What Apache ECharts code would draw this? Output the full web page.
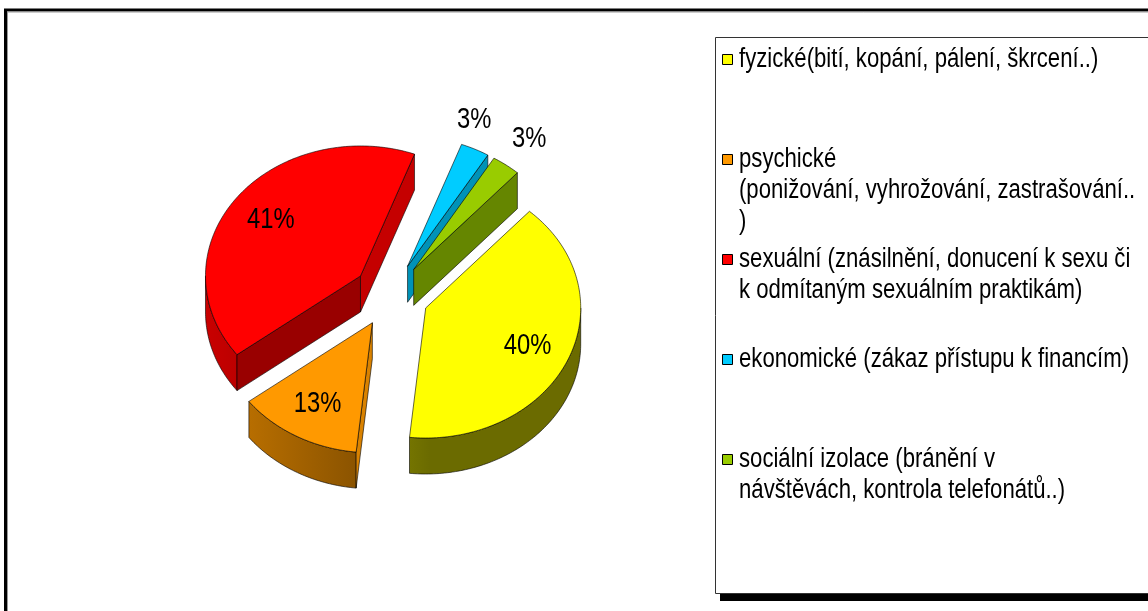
<!DOCTYPE html>
<html>
<head>
<meta charset="utf-8">
<script src="https://cdn.jsdelivr.net/npm/echarts@6/dist/echarts.min.js"></script>
<style>
  html, body { margin: 0; padding: 0; background: #fff; }
  #chart { width: 1148px; height: 611px; }
</style>
</head>
<body>
<div id="chart"></div>
<script>
// data
const categories = [
    'fyzické(bití, kopání, pálení, škrcení..)',
    'psychické (ponižování, vyhrožování, zastrašování..)',
    'sexuální (znásilnění, donucení k sexu či k odmítaným sexuálním praktikám)',
    'ekonomické (zákaz přístupu k financím)',
    'sociální izolace (bránění v návštěvách, kontrola telefonátů..)'
];
const legendLabels = [
    'fyzické(bití, kopání, pálení, škrcení..)',
    'psychické\n(ponižování, vyhrožování, zastrašování..\n)',
    'sexuální (znásilnění, donucení k sexu či\nk odmítaným sexuálním praktikám)',
    'ekonomické (zákaz přístupu k financím)',
    'sociální izolace (bránění v\nnávštěvách, kontrola telefonátů..)'
];
const values = [40, 13, 41, 3, 3];
const colors = ['#FFFF00', '#FF9900', '#FF0000', '#00CCFF', '#99CC00'];

// 3d pie layout
const CX = 391, CY = 295;     // centre of the (unexploded) top face
const R = 155;                // radius
const K = 0.839;              // vertical squash of the tilted disc
const DEPTH = 36;             // thickness
const EXPLODE = 38;           // explosion distance
const START = 42;             // first slice angle, clockwise from 12 o'clock
const FONT = '"Liberation Sans", Arial, sans-serif';
const NARROW_X = 0.82;        // text is squeezed like Arial Narrow

const total = values.reduce((a, b) => a + b, 0);
const rad = d => d * Math.PI / 180;

function sliceAngles(i) {
    const before = values.slice(0, i).reduce((a, b) => a + b, 0);
    const a1 = START + before / total * 360;
    const a2 = a1 + values[i] / total * 360;
    return [a1, a2, (a1 + a2) / 2];
}

function origin(mid) {
    return [CX + EXPLODE * Math.sin(rad(mid)), CY - EXPLODE * Math.cos(rad(mid)) * K];
}

function shade(hex, f) {
    const n = parseInt(hex.slice(1), 16);
    const r = Math.round(((n >> 16) & 255) * f);
    const g = Math.round(((n >> 8) & 255) * f);
    const b = Math.round((n & 255) * f);
    return 'rgb(' + r + ',' + g + ',' + b + ')';
}

// label positions, small slices go outside and are pushed apart
function labelPositions() {
    const pos = [];
    let lastOutside = null;
    values.forEach((v, i) => {
        const [, , mid] = sliceAngles(i);
        const [ox, oy] = origin(mid);
        const outside = v / total < 0.05;
        const r = outside ? R * 1.25 : R * 0.72;
        const p = [ox + r * Math.sin(rad(mid)), oy - r * Math.cos(rad(mid)) * K];
        if (outside) {
            if (lastOutside !== null && p[0] - pos[lastOutside][0] < 55) {
                pos[lastOutside][0] = p[0] - 55;
            }
            lastOutside = i;
        }
        pos.push(p);
    });
    return pos;
}
const labelPos = labelPositions();

function makeRenderItem(idx) {
    return function (params, api) {
        const v = api.value(0);
        const [a1, a2, mid] = sliceAngles(idx);
        const [ox, oy] = origin(mid);
        const pt = (ang, r, dz) => [ox + r * Math.sin(rad(ang)), oy - r * Math.cos(rad(ang)) * K + dz];
        const arc = (from, to, dz) => {
            const pts = [];
            const steps = Math.max(2, Math.ceil(to - from));
            for (let s = 0; s <= steps; s++) pts.push(pt(from + (to - from) * s / steps, R, dz));
            return pts;
        };
        const base = colors[idx];
        const zBase = Math.round(oy) * 10;
        const edge = { stroke: 'rgba(0,0,0,0.75)', lineWidth: 0.8 };
        const children = [];

        // outer wall, only the front half can be seen
        [[90, 270], [450, 630]].forEach(([f, t]) => {
            const s = Math.max(a1, f), e = Math.min(a2, t);
            if (e <= s) return;
            const top = arc(s, e, 0);
            const bottom = arc(s, e, DEPTH).reverse();
            children.push({
                type: 'polygon',
                z2: zBase + 1,
                shape: { points: top.concat(bottom) },
                style: Object.assign({
                    fill: new echarts.graphic.LinearGradient(CX - R - EXPLODE, 0, CX + R + EXPLODE, 0, [
                        { offset: 0, color: shade(base, 0.8) },
                        { offset: 0.45, color: shade(base, 0.52) },
                        { offset: 0.6, color: shade(base, 0.42) },
                        { offset: 1, color: shade(base, 0.42) }
                    ], true)
                }, edge)
            });
        });

        // radial cut faces
        [[a1, a1 - 90], [a2, a2 + 90]].forEach(([ang, normal]) => {
            if (Math.cos(rad(normal)) >= 0) return;
            const n = ((normal % 360) + 360) % 360;
            const f = Math.min(0.9, Math.max(0.35, 0.85 - (n - 96) * 0.0053));
            children.push({
                type: 'polygon',
                z2: zBase + 2,
                shape: { points: [pt(ang, 0, 0), pt(ang, R, 0), pt(ang, R, DEPTH), pt(ang, 0, DEPTH)] },
                style: Object.assign({ fill: shade(base, f) }, edge)
            });
        });

        // top face
        children.push({
            type: 'polygon',
            z2: zBase + 5,
            shape: { points: [pt(a1, 0, 0)].concat(arc(a1, a2, 0)) },
            style: Object.assign({ fill: base }, edge)
        });

        // percentage label
        children.push({
            type: 'text',
            z2: 100000,
            x: labelPos[idx][0],
            y: labelPos[idx][1],
            scaleX: NARROW_X,
            style: {
                text: Math.round(v / total * 100) + '%',
                x: 0,
                y: 0,
                align: 'center',
                verticalAlign: 'middle',
                fontSize: 29,
                fontFamily: FONT,
                fill: '#000'
            }
        });

        return { type: 'group', children: children };
    };
}

// legend entries: a framed square and the (wrapped) text, one row every 100px
const LEGEND_LINE = 31;
const legendItems = [];
legendLabels.forEach((label, i) => {
    const firstLineY = 60 + i * 100;
    legendItems.push({
        type: 'rect', z: 10,
        shape: { x: 722.5, y: firstLineY - 5.5, width: 10, height: 10 },
        style: { fill: colors[i], stroke: '#000', lineWidth: 1 }
    });
    legendItems.push({
        type: 'text', z: 10,
        x: 739, y: firstLineY - LEGEND_LINE / 2,
        scaleX: NARROW_X,
        style: {
            text: label,
            x: 0, y: 0,
            fontSize: 27,
            fontFamily: FONT,
            lineHeight: LEGEND_LINE,
            verticalAlign: 'top',
            fill: '#000'
        }
    });
});

const chart = echarts.init(document.getElementById('chart'));
chart.setOption({
    backgroundColor: '#fff',
    animation: false,
    graphic: [
        // outer chart frame
        { type: 'rect', z: 0, shape: { x: 5.5, y: 10, width: 1170, height: 640 },
          style: { fill: '#fff', stroke: '#000', lineWidth: 3 } },
        { type: 'rect', z: 0, shape: { x: 7.5, y: 12, width: 1170, height: 640 },
          style: { fill: 'none', stroke: '#999', lineWidth: 1 } },
        // legend box and its shadow
        { type: 'rect', z: 0, shape: { x: 720, y: 43, width: 460, height: 558 },
          style: { fill: '#000' } },
        { type: 'rect', z: 0, shape: { x: 715.5, y: 37.5, width: 460, height: 556 },
          style: { fill: '#fff', stroke: '#333', lineWidth: 1 } }
    ].concat(legendItems),
    series: categories.map((name, i) => ({
        type: 'custom',
        name: name,
        coordinateSystem: 'none',
        itemStyle: { color: colors[i] },
        renderItem: makeRenderItem(i),
        data: [[values[i]]]
    }))
});
</script>
</body>
</html>
